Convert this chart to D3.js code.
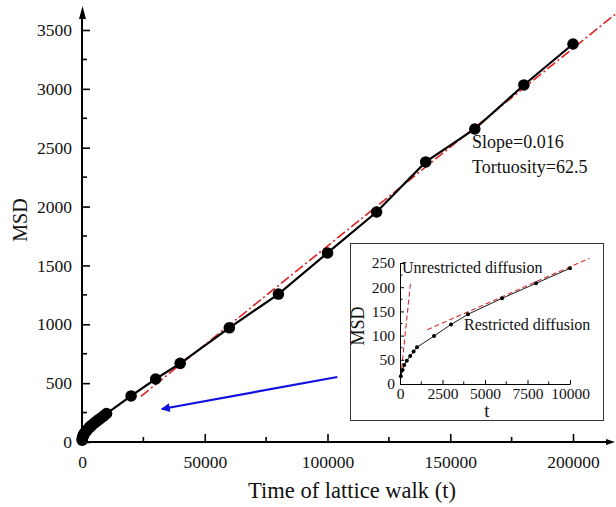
<!DOCTYPE html>
<html>
<head>
<meta charset="utf-8">
<script src="https://cdn.jsdelivr.net/npm/d3@7"></script>
<style>
html,body{margin:0;padding:0;background:#fff;}
svg{display:block;font-family:"Liberation Serif","Times New Roman",serif;}
</style>
</head>
<body>
<svg id="chart" width="616" height="507"></svg>
<script>
// ---- data ----
const timeSteps = [50, 150, 250, 400, 600, 800, 1000, 1500, 2000, 2500, 3000, 3500, 4000, 5000, 6000, 7000, 8000, 9000, 10000,
  20000, 30000, 40000, 60000, 80000, 100000, 120000, 140000, 160000, 180000, 200000];
const msdValues = [16, 29, 39, 48, 58, 67, 76, 88, 99, 111, 123, 134, 144, 161, 177, 193, 208, 224, 242,
  391, 535, 668, 970, 1257, 1606, 1954, 2379, 2659, 3033, 3381];
const fitT = [24000, 218000];
const fitMSD = [388, 3647];

const insetT = [50, 150, 250, 400, 600, 800, 1000, 2000, 3000, 4000, 6000, 8000, 10000];
const insetMSD = [16, 29, 39, 48, 58, 67, 76, 99, 123, 144, 177, 208, 239];
const unrestrictedT = [50, 630];
const unrestrictedMSD = [16, 213];
const restrictedT = [1600, 11150];
const restrictedMSD = [112, 260];

const xTicks = [0, 50000, 100000, 150000, 200000];
const xMinor = [25000, 75000, 125000, 175000];
const yTicks = [0, 500, 1000, 1500, 2000, 2500, 3000, 3500];
const yMinor = [250, 750, 1250, 1750, 2250, 2750, 3250];
const insetXTicks = [0, 2500, 5000, 7500, 10000];
const insetXMinor = [1250, 3750, 6250, 8750];
const insetYTicks = [0, 50, 100, 150, 200, 250];
const insetYMinor = [25, 75, 125, 175, 225];
const arrowT = [104000, 32500];
const arrowMSD = [552, 280];

// ---- drawing ----
const svg = d3.select("#chart");
const x = d3.scaleLinear().domain([0, 200000]).range([82, 573]);
const y = d3.scaleLinear().domain([0, 3500]).range([442, 30]);
const FONT = "Liberation Serif";

const defs = svg.append("defs");
defs.append("marker").attr("id", "blueHead").attr("viewBox", "0 0 10 10")
  .attr("refX", 9).attr("refY", 5).attr("markerWidth", 5).attr("markerHeight", 4)
  .attr("orient", "auto").attr("markerUnits", "strokeWidth")
  .append("path").attr("d", "M0,0 L10,5 L0,10 Z").attr("fill", "#1010e0");

// fit line (red dash-dot)
svg.append("line")
  .attr("x1", x(fitT[0])).attr("y1", y(fitMSD[0]))
  .attr("x2", x(fitT[1])).attr("y2", y(fitMSD[1]))
  .attr("stroke", "#e02020").attr("stroke-width", 1.6)
  .attr("stroke-dasharray", "10,3,2,3");

// data line
const line = d3.line().x((d, i) => x(timeSteps[i])).y(d => y(d));
svg.append("path").datum(msdValues).attr("d", line)
  .attr("fill", "none").attr("stroke", "#000").attr("stroke-width", 2.2);
svg.append("g").selectAll("circle").data(msdValues).join("circle")
  .attr("cx", (d, i) => x(timeSteps[i])).attr("cy", d => y(d)).attr("r", 5.8).attr("fill", "#000");

// axes
const xAxis = svg.append("g").attr("transform", "translate(0,442)")
  .call(d3.axisBottom(x).tickValues(xTicks).tickSizeInner(-8).tickSizeOuter(0).tickPadding(14)
    .tickFormat(d3.format("d")));
xAxis.select(".domain").remove();
xAxis.selectAll(".tick line").attr("stroke-width", 1.6);
xAxis.selectAll("text").attr("font-size", 17.5).attr("font-family", FONT).attr("fill", "#111");
svg.append("g").attr("transform", "translate(0,442)").selectAll("line").data(xMinor).join("line")
  .attr("x1", d => x(d)).attr("x2", d => x(d)).attr("y1", 0).attr("y2", -5)
  .attr("stroke", "#000").attr("stroke-width", 1.6);
svg.append("line").attr("x1", 81).attr("x2", 610).attr("y1", 442).attr("y2", 442)
  .attr("stroke", "#000").attr("stroke-width", 2);
svg.append("path").attr("d", "M606,439 L615,442 L606,445 Z").attr("fill", "#000");

const yAxis = svg.append("g").attr("transform", "translate(82,0)")
  .call(d3.axisLeft(y).tickValues(yTicks).tickSizeInner(-8).tickSizeOuter(0).tickPadding(10)
    .tickFormat(d3.format("d")));
yAxis.select(".domain").remove();
yAxis.selectAll(".tick line").attr("stroke-width", 1.6);
yAxis.selectAll("text").attr("font-size", 17.5).attr("font-family", FONT).attr("fill", "#111");
svg.append("g").attr("transform", "translate(82,0)").selectAll("line").data(yMinor).join("line")
  .attr("y1", d => y(d)).attr("y2", d => y(d)).attr("x1", 0).attr("x2", 5)
  .attr("stroke", "#000").attr("stroke-width", 1.6);
svg.append("line").attr("x1", 82).attr("x2", 82).attr("y1", 443).attr("y2", 14)
  .attr("stroke", "#000").attr("stroke-width", 2);
svg.append("path").attr("d", "M79,19 L82.5,6 L86,19 Z").attr("fill", "#000");

// axis titles
svg.append("text").attr("x", 352).attr("y", 498).attr("text-anchor", "middle")
  .attr("font-size", 22.5).attr("fill", "#111").text("Time of lattice walk (t)");
svg.append("text").attr("transform", "translate(27,220) rotate(-90)").attr("text-anchor", "middle")
  .attr("font-size", 20).attr("fill", "#111").text("MSD");

// annotations
svg.append("text").attr("x", 472).attr("y", 148).attr("font-size", 18).attr("fill", "#111").text("Slope=0.016");
svg.append("text").attr("x", 472).attr("y", 173).attr("font-size", 18).attr("fill", "#111").text("Tortuosity=62.5");

// blue arrow
svg.append("line")
  .attr("x1", x(arrowT[0])).attr("y1", y(arrowMSD[0]))
  .attr("x2", x(arrowT[1])).attr("y2", y(arrowMSD[1]))
  .attr("stroke", "#1010e0").attr("stroke-width", 2.2).attr("marker-end", "url(#blueHead)");

// ---- inset ----
const ins = svg.append("g");
ins.append("rect").attr("x", 350.5).attr("y", 243.5).attr("width", 253).attr("height", 177)
  .attr("fill", "#fff").attr("stroke", "#333").attr("stroke-width", 1);
const ix = d3.scaleLinear().domain([0, 10000]).range([400, 570]);
const iy = d3.scaleLinear().domain([0, 250]).range([384, 263]);

// red dashed guides
ins.append("line").attr("x1", ix(unrestrictedT[0])).attr("y1", iy(unrestrictedMSD[0]))
  .attr("x2", ix(unrestrictedT[1])).attr("y2", iy(unrestrictedMSD[1]))
  .attr("stroke", "#d83030").attr("stroke-width", 1.1).attr("stroke-dasharray", "5,3");
ins.append("line").attr("x1", ix(restrictedT[0])).attr("y1", iy(restrictedMSD[0]))
  .attr("x2", ix(restrictedT[1])).attr("y2", iy(restrictedMSD[1]))
  .attr("stroke", "#d83030").attr("stroke-width", 1.1).attr("stroke-dasharray", "5,3");

const iline = d3.line().x((d, i) => ix(insetT[i])).y(d => iy(d));
ins.append("path").datum(insetMSD).attr("d", iline).attr("fill", "none")
  .attr("stroke", "#000").attr("stroke-width", 0.9);
ins.append("g").selectAll("circle").data(insetMSD).join("circle")
  .attr("cx", (d, i) => ix(insetT[i])).attr("cy", d => iy(d)).attr("r", 2).attr("fill", "#000");

const ixAxis = ins.append("g").attr("transform", "translate(0,384)")
  .call(d3.axisBottom(ix).tickValues(insetXTicks).tickSizeInner(-4).tickSizeOuter(0).tickPadding(4)
    .tickFormat(d3.format("d")));
ixAxis.select(".domain").attr("stroke-width", 1);
ixAxis.selectAll("text").attr("font-size", 15.5).attr("font-family", FONT).attr("fill", "#111");
ins.append("g").attr("transform", "translate(0,384)").selectAll("line").data(insetXMinor).join("line")
  .attr("x1", d => ix(d)).attr("x2", d => ix(d)).attr("y1", 0).attr("y2", -2.5).attr("stroke", "#000");

const iyAxis = ins.append("g").attr("transform", "translate(400,0)")
  .call(d3.axisLeft(iy).tickValues(insetYTicks).tickSizeInner(-4).tickSizeOuter(0).tickPadding(5));
iyAxis.select(".domain").attr("stroke-width", 1);
iyAxis.selectAll("text").attr("font-size", 15.5).attr("font-family", FONT).attr("fill", "#111");
ins.append("g").attr("transform", "translate(400,0)").selectAll("line").data(insetYMinor).join("line")
  .attr("y1", d => iy(d)).attr("y2", d => iy(d)).attr("x1", 0).attr("x2", 2.5).attr("stroke", "#000");

ins.append("text").attr("x", 487).attr("y", 417).attr("text-anchor", "middle")
  .attr("font-size", 19).attr("fill", "#111").text("t");
ins.append("text").attr("transform", "translate(364,326) rotate(-90)").attr("text-anchor", "middle")
  .attr("font-size", 18).attr("fill", "#111").text("MSD");
ins.append("text").attr("x", 402).attr("y", 273).attr("font-size", 16).attr("fill", "#111").text("Unrestricted diffusion");
ins.append("text").attr("x", 464).attr("y", 330).attr("font-size", 16).attr("fill", "#111").text("Restricted diffusion");
</script>
</body>
</html>
